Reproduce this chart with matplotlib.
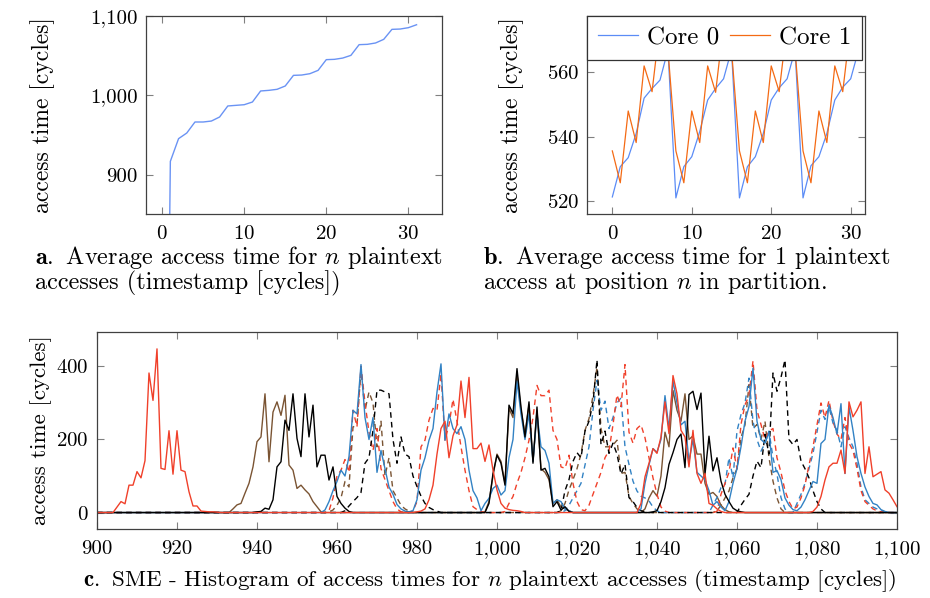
import numpy as np
import matplotlib
matplotlib.use("Agg")
import matplotlib.pyplot as plt
from matplotlib.ticker import FuncFormatter

plt.rcParams['font.family'] = 'cmr10'
plt.rcParams['mathtext.fontset'] = 'cm'
plt.rcParams['axes.unicode_minus'] = False
plt.rcParams['axes.formatter.use_mathtext'] = True

# --- panel a: average access time for n plaintext accesses
a_n = list(range(0, 32))
a_time = [0, 916.8, 945.4, 952.5, 966.4, 966.4, 967.6, 972.7, 986.6, 987.4, 988.2,
          991.6, 1005.5, 1006.3, 1007.6, 1011.8, 1025.2, 1025.6, 1027.3, 1031.5,
          1045.0, 1045.4, 1047.0, 1050.4, 1063.9, 1064.3, 1066.0, 1070.6, 1083.2,
          1083.6, 1085.3, 1089.0]

# --- panel b: access time at position n in partition
b_n = list(range(0, 32))
core0 = [521.3, 530.7, 533.5, 541.0, 552.0, 555.0, 557.6, 567.0,
         521.0, 530.7, 533.8, 541.6, 551.4, 555.0, 558.0, 567.0,
         521.0, 530.7, 533.8, 541.0, 551.4, 555.2, 558.0, 567.0,
         521.0, 531.0, 533.8, 541.0, 551.4, 555.4, 558.0, 567.0]
core1 = [535.6, 525.7, 548.0, 538.2, 562.0, 554.0, 575.0, 567.0,
         535.6, 525.7, 548.0, 538.2, 562.0, 553.8, 575.0, 567.0,
         535.6, 525.7, 548.0, 538.2, 562.0, 554.0, 575.0, 567.0,
         535.6, 525.7, 548.0, 538.2, 562.0, 554.0, 575.0, 567.0]

# --- panel c: histogram of access times, segments as (first cycle, values)
cycles = np.arange(900, 1101)

red_solid_a = (903, [0, 0, 15, 30, 24, 75, 75, 112, 95, 142, 382, 307, 448, 121, 118, 224,
                     105, 224, 116, 112, 57, 18, 18, 4, 3, 2, 2, 1])
red_solid_d = (980, [2, 4, 10, 35, 75, 160, 230, 250, 150, 210, 240, 360, 260, 370, 175,
                     175, 190, 140, 185, 116, 62, 25, 12, 8, 6, 5, 3])
red_solid_g = (1035, [0, 25, 98, 135, 175, 162, 207, 303, 216, 375, 325, 225, 207, 125, 225,
                      107, 80, 107, 25, 20, 10, 3])
red_solid_i = (1079, [3, 15, 44, 89, 125, 135, 135, 171, 107, 303, 262, 280, 303, 107, 180,
                      98, 105, 112, 62, 53, 35, 16])

brown_solid_b = (933, [0, 10, 21, 25, 53, 80, 125, 194, 207, 325, 139, 275, 303, 266, 321,
                       130, 116, 66, 75, 62, 51, 30, 16, 2])
brown_solid_e = (997, [2, 30, 100, 160, 140, 80, 285, 260, 380, 280, 215, 295, 140, 280, 120,
                       110, 90, 25, 35, 15, 10, 5])
brown_solid_g = (1037, [10, 40, 60, 45, 100, 220, 180, 334, 280, 250, 325, 200, 210, 160, 160,
                        80, 50, 55, 44, 20, 8, 2])

black_solid_b = (939, [0, 2, 3, 12, 9, 35, 125, 139, 253, 225, 325, 203, 153, 325, 207, 294,
                       125, 157, 157, 89, 125, 44, 25, 12, 3])
black_solid_e = (997, [0, 25, 107, 157, 135, 75, 294, 271, 394, 289, 207, 303, 135, 289, 116,
                       121, 98, 16, 30, 7, 16, 3])
black_solid_g = (1039, [2, 5, 30, 68, 132, 164, 200, 215, 123, 323, 332, 282, 327, 105, 209,
                        114, 150, 86, 50, 30, 12, 5, 2])

blue_solid_c = (956, [0, 7, 30, 60, 85, 116, 100, 153, 280, 270, 405, 260, 200, 260, 110, 170,
                      120, 70, 50, 22, 10, 4, 2])
blue_solid_d = (979, [5, 35, 116, 150, 198, 230, 330, 407, 198, 270, 230, 216, 235, 200, 116,
                      60, 40])
blue_solid_e = (996, [5, 25, 39, 66, 75, 48, 60, 150, 200, 360, 270, 200, 270, 140, 270, 180,
                      170, 135, 25, 35, 30, 10, 5])
blue_solid_g = (1036, [10, 80, 130, 175, 165, 200, 320, 230, 360, 300, 240, 250, 140, 200, 110,
                       100, 90, 60, 20, 30, 15])
blue_solid_h = (1057, [5, 30, 80, 120, 180, 250, 290, 395, 250, 200, 190, 220, 110, 115, 90,
                       40, 20, 8])
blue_solid_i = (1075, [5, 15, 35, 60, 85, 80, 189, 200, 294, 260, 215, 298, 107, 289, 225, 153,
                       107, 70, 44, 25, 21, 8, 3])

red_dash_c = (958, [5, 40, 100, 116, 145, 110, 280, 235, 400, 300, 220, 170, 230, 120, 90, 60,
                    30, 10, 2])
red_dash_d = (979, [5, 30, 180, 198, 253, 285, 280, 380, 198, 240, 310, 250, 180, 116, 60, 16,
                    8, 3])
red_dash_e = (1002, [3, 25, 44, 80, 110, 150, 198, 260, 348, 320, 320, 335, 225, 200, 125, 121,
                     157, 80, 30, 8])
red_dash_f = (1022, [5, 20, 50, 80, 110, 150, 170, 240, 322, 290, 405, 220, 190, 230, 240, 205,
                     150, 95, 50, 15, 4])
red_dash_h = (1055, [3, 50, 80, 110, 177, 120, 241, 295, 320, 415, 280, 241, 200, 223, 230, 150,
                     110, 60, 30, 10])
red_dash_i = (1075, [15, 40, 75, 130, 180, 240, 300, 260, 307, 250, 215, 200, 260, 190, 170,
                     120, 60, 30, 20, 10, 5, 2])

blue_dash_f = (1017, [5, 20, 40, 60, 80, 130, 180, 280, 362, 280, 305, 230, 260, 300, 314, 180,
                      132, 86, 59, 45, 40, 32, 15, 5])
blue_dash_h = (1053, [0, 20, 41, 68, 77, 150, 95, 223, 268, 300, 368, 250, 200, 168, 190, 223,
                      150, 105, 41, 10])
blue_dash_i = (1075, [25, 50, 80, 120, 162, 220, 280, 255, 289, 245, 225, 180, 235, 205, 180,
                      135, 70, 35, 25, 15, 10, 5, 2])

brown_dash_c = (958, [2, 7, 20, 40, 85, 70, 234, 240, 390, 280, 330, 300, 180, 250, 100, 150,
                      60, 40, 20, 10, 4])
brown_dash_f = (1016, [5, 25, 62, 90, 120, 160, 225, 257, 320, 398, 230, 180, 180, 185, 198,
                       107, 110, 44, 25, 10, 3])
brown_dash_h = (1055, [5, 20, 40, 59, 95, 120, 205, 240, 350, 230, 241, 200, 250, 150, 86, 40,
                       10])

black_dash_c = (962, [5, 18, 30, 41, 55, 135, 150, 225, 335, 335, 330, 325, 200, 135, 207, 160,
                      153, 100, 71, 45, 25, 14, 8, 4])
black_dash_f = (1016, [5, 60, 90, 140, 164, 150, 223, 250, 300, 418, 186, 223, 162, 190, 160,
                       105, 132, 41, 30, 14, 5, 2])
black_dash_h = (1061, [20, 36, 50, 100, 141, 123, 214, 160, 382, 332, 370, 418, 200, 186, 200,
                       141, 120, 95, 60, 30, 10])


def series(*segs):
    y = np.zeros(len(cycles))
    for start, vals in segs:
        i = start - 900
        y[i:i + len(vals)] = vals
    return y


RED = '#f0402a'
BLUE = '#3282c4'
BROWN = '#7a5433'
BLACK = '#000000'

lines_c = [
    (series(brown_solid_b, brown_solid_e, brown_solid_g), BROWN, '-'),
    (series(brown_dash_c, brown_dash_f, brown_dash_h), BROWN, '--'),
    (series(blue_dash_f, blue_dash_h, blue_dash_i), BLUE, '--'),
    (series(red_dash_c, red_dash_d, red_dash_e, red_dash_f, red_dash_h, red_dash_i), RED, '--'),
    (series(black_dash_c, black_dash_f, black_dash_h), BLACK, '--'),
    (series(blue_solid_c, blue_solid_d, blue_solid_e, blue_solid_g, blue_solid_h, blue_solid_i), BLUE, '-'),
    (series(black_solid_b, black_solid_e, black_solid_g), BLACK, '-'),
    (series(red_solid_a, red_solid_d, red_solid_g, red_solid_i), RED, '-'),
]

TICK = 15
LAB = 17
comma = FuncFormatter(lambda v, p: f"{v:,.0f}")


def style(ax):
    for s in ax.spines.values():
        s.set_color('0.25')
        s.set_linewidth(0.9)
    ax.tick_params(direction='in', top=True, right=True, length=5, width=0.8,
                   color='0.5', labelsize=TICK)
    ax.tick_params(axis='x', pad=8)
    ax.tick_params(axis='y', pad=6)


fig = plt.figure(figsize=(9.3, 5.98), dpi=100)

# panel a
ax1 = fig.add_axes([0.1567, 0.6416, 0.3183, 0.3316])
ax1.plot(a_n, a_time, color='#6a93f4', lw=1.0)
ax1.set_xlim(-2, 34.07)
ax1.set_ylim(850, 1100)
ax1.set_xticks([0, 10, 20, 30])
ax1.set_yticks([900, 1000, 1100])
ax1.yaxis.set_major_formatter(comma)
ax1.set_ylabel('access time [cycles]', fontsize=LAB)
ax1.yaxis.set_label_coords(-0.306, 0.5)
style(ax1)

# panel b
ax2 = fig.add_axes([0.6315, 0.6416, 0.2986, 0.3316])
ax2.plot(b_n, core0, color='#5b8cf6', lw=0.9, label='Core 0')
ax2.plot(b_n, core1, color='#f46a14', lw=0.9, label='Core 1')
ax2.set_xlim(-3.15, 31.8)
ax2.set_ylim(515.9, 577.5)
ax2.set_xticks([0, 10, 20, 30])
ax2.set_yticks([520, 540, 560])
ax2.set_ylabel('access time [cycles]', fontsize=LAB)
ax2.yaxis.set_label_coords(-0.228, 0.5)
style(ax2)
leg = ax2.legend(loc='upper left', ncol=2, fontsize=18, frameon=True, fancybox=False,
                 framealpha=1, edgecolor='0.2', borderaxespad=0, handlelength=1.6,
                 columnspacing=0.45, handletextpad=0.35, borderpad=0.42)
leg.get_frame().set_linewidth(0.9)
leg.set_zorder(5)

# panel c
ax3 = fig.add_axes([0.1043, 0.1154, 0.8602, 0.3299])
for y, col, ls in lines_c:
    if ls == '--':
        ax3.plot(cycles, y, color=col, lw=1.0, ls=(0, (4, 3)))
    else:
        ax3.plot(cycles, y, color=col, lw=1.0)
ax3.set_xlim(900, 1100)
ax3.set_ylim(-45, 495)
ax3.set_xticks(np.arange(900, 1101, 20))
ax3.set_yticks([0, 200, 400])
ax3.xaxis.set_major_formatter(comma)
ax3.set_ylabel('access time [cycles]', fontsize=16.5)
ax3.yaxis.set_label_coords(-0.056, 0.5)
style(ax3)

# captions
cap = 17.5
fig.text(35 / 930, 1 - 258 / 598, r'$\mathbf{a.}$ Average access time for $n$ plaintext',
         fontsize=cap, va='center', ha='left')
fig.text(35 / 930, 1 - 283 / 598, 'accesses (timestamp [cycles])',
         fontsize=cap, va='center', ha='left')
fig.text(483 / 930, 1 - 258 / 598, r'$\mathbf{b.}$ Average access time for 1 plaintext',
         fontsize=cap, va='center', ha='left')
fig.text(483 / 930, 1 - 283 / 598, r'access at position $n$ in partition.',
         fontsize=cap, va='center', ha='left')
fig.text(490 / 930, 1 - 580 / 598,
         r'$\mathbf{c.}$ SME - Histogram of access times for $n$ plaintext accesses (timestamp [cycles])',
         fontsize=16.6, va='center', ha='center')

fig.savefig('out.png', dpi=100)
